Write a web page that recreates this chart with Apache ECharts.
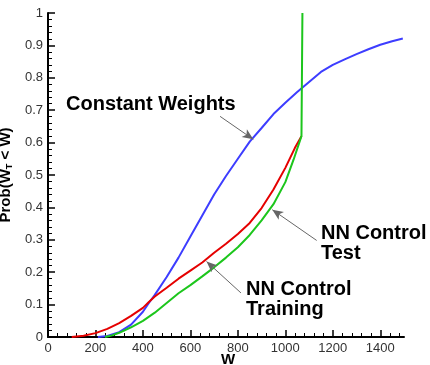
<!DOCTYPE html>
<html lang="en">

<head>
    <meta charset="UTF-8">
    <script src="https://cdn.jsdelivr.net/npm/echarts@6/dist/echarts.min.js"></script>
</head>

<body style="margin:0">
    <div id="chart" style="width:430px;height:365px"></div>
    <script>
        // tick labels
        var xTicks = [0, 200, 400, 600, 800, 1000, 1200, 1400];

        // [W, Prob] pairs
        var constantWeights = [
            [210, 0], [250, 0.003], [300, 0.015], [350, 0.038], [400, 0.078], [425, 0.105],
            [450, 0.13], [500, 0.185], [550, 0.245], [600, 0.31], [650, 0.375], [700, 0.44],
            [750, 0.497], [800, 0.55], [850, 0.603], [900, 0.645], [950, 0.688], [1000, 0.723],
            [1050, 0.756], [1100, 0.787], [1150, 0.818], [1200, 0.84], [1250, 0.857],
            [1300, 0.873], [1350, 0.888], [1400, 0.902], [1450, 0.913], [1495, 0.921]
        ];
        var nnTraining = [
            [100, 0], [150, 0.004], [200, 0.012], [250, 0.025], [300, 0.043], [350, 0.065],
            [400, 0.09], [425, 0.108], [450, 0.125], [500, 0.152], [550, 0.18], [600, 0.205],
            [650, 0.23], [700, 0.26], [750, 0.288], [800, 0.318], [850, 0.352], [900, 0.398],
            [950, 0.455], [1000, 0.522], [1040, 0.583], [1068, 0.62]
        ];
        var nnTest = [
            [240, 0], [270, 0.005], [300, 0.013], [350, 0.03], [400, 0.05], [450, 0.075],
            [500, 0.105], [550, 0.135], [600, 0.16], [650, 0.187], [700, 0.215], [750, 0.245],
            [800, 0.277], [850, 0.315], [900, 0.36], [950, 0.41], [1000, 0.478], [1035, 0.548],
            [1068, 0.62], [1072, 1.0]
        ];

        // annotation arrows: [from, to] in data space
        var arrows = [
            [[725, 0.681], [865, 0.61]],
            [[1132, 0.298], [945, 0.393]],
            [[813, 0.136], [668, 0.233]]
        ];

        var font = '"Liberation Sans", Arial, sans-serif';

        function note(text, left, top, size) {
            return {
                text: text,
                left: left,
                top: top,
                padding: 0,
                textStyle: {
                    fontFamily: font,
                    fontSize: size,
                    fontWeight: 'bold',
                    lineHeight: size,
                    color: '#000'
                }
            };
        }

        var chart = echarts.init(document.getElementById('chart'));

        chart.setOption({
            animation: false,
            title: [
                note('Constant Weights', 66, 94, 20),
                note('NN Control\nTest', 321, 223, 20),
                note('NN Control\nTraining', 246, 279, 20),
                note('W', 221, 352, 15)
            ],
            grid: [
                { left: 48, width: 356, top: 13, height: 324, outerBoundsMode: 'none' },
                // spare grid kept off screen
                { left: -200, width: 20, top: -200, height: 20, outerBoundsMode: 'none' }
            ],
            xAxis: [{
                gridIndex: 0,
                type: 'value',
                min: 0,
                max: 1500,
                interval: 200,
                axisLine: { show: true, lineStyle: { color: '#000', width: 2 } },
                axisTick: {
                    show: true,
                    inside: true,
                    length: 7,
                    customValues: xTicks,
                    lineStyle: { color: '#000', width: 1.5 }
                },
                minorTick: {
                    show: true,
                    splitNumber: 5,
                    length: 4,
                    lineStyle: { color: '#000' }
                },
                axisLabel: {
                    customValues: xTicks,
                    margin: 5,
                    fontFamily: font,
                    fontSize: 13,
                    color: '#333',
                    formatter: function (v) { return String(v); }
                },
                splitLine: { show: false }
            }, {
                gridIndex: 1,
                type: 'value',
                show: false
            }],
            yAxis: [{
                gridIndex: 0,
                type: 'value',
                min: 0,
                max: 1,
                interval: 0.1,
                name: '{a|Prob(W}{s|T}{a| < W)}',
                nameLocation: 'middle',
                nameRotate: 90,
                nameGap: 30,
                nameTextStyle: {
                    color: '#000',
                    rich: {
                        a: { fontFamily: font, fontSize: 15, fontWeight: 'bold', color: '#000' },
                        s: { fontFamily: font, fontSize: 9, fontWeight: 'bold', color: '#000', padding: [8, 0, 0, 0] }
                    }
                },
                axisLine: { show: true, lineStyle: { color: '#000', width: 2 } },
                axisTick: {
                    show: true,
                    inside: true,
                    length: 7,
                    lineStyle: { color: '#000', width: 1.5 }
                },
                minorTick: {
                    show: true,
                    splitNumber: 5,
                    length: 4,
                    lineStyle: { color: '#000' }
                },
                axisLabel: {
                    margin: 5,
                    fontFamily: font,
                    fontSize: 13,
                    color: '#333'
                },
                splitLine: { show: false }
            }, {
                gridIndex: 1,
                type: 'value',
                show: false
            }],
            series: [{
                name: 'Constant Weights',
                type: 'line',
                xAxisIndex: 0,
                yAxisIndex: 0,
                data: constantWeights,
                showSymbol: false,
                lineStyle: { color: '#3d3dff', width: 2 },
                markLine: {
                    silent: true,
                    symbolSize: [7, 11],
                    label: { show: false },
                    lineStyle: { color: '#666', width: 1, type: 'solid' },
                    data: arrows.map(function (a) {
                        return [
                            { coord: a[0], symbol: 'none' },
                            { coord: a[1], symbol: 'arrow' }
                        ];
                    })
                }
            }, {
                name: 'NN Control Training',
                type: 'line',
                xAxisIndex: 0,
                yAxisIndex: 0,
                data: nnTraining,
                showSymbol: false,
                lineStyle: { color: '#e50000', width: 2 }
            }, {
                name: 'NN Control Test',
                type: 'line',
                xAxisIndex: 0,
                yAxisIndex: 0,
                data: nnTest,
                showSymbol: false,
                lineStyle: { color: '#1cc61c', width: 2 }
            }]
        });
    </script>
</body>

</html>
